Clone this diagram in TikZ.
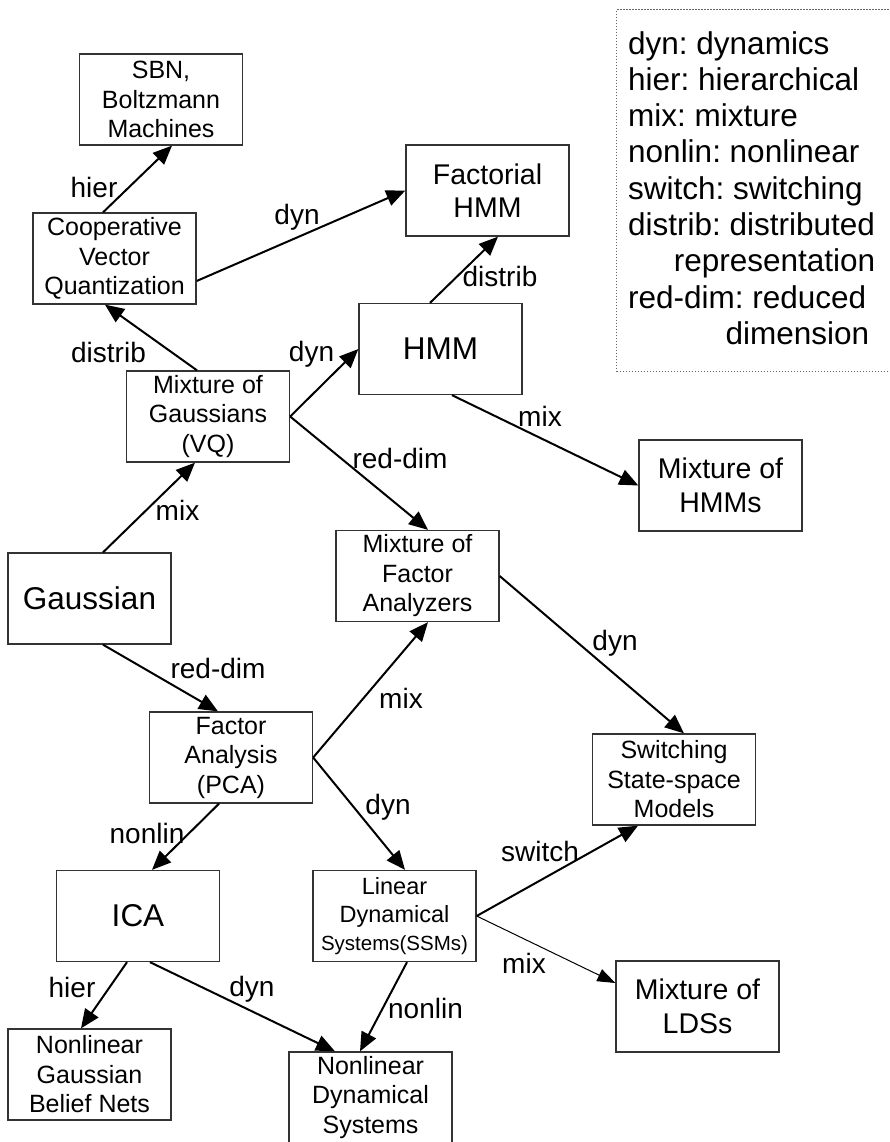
\documentclass[tikz,border=0pt]{standalone}
\usepackage{fontspec}
\setmainfont{Liberation Sans}
\usetikzlibrary{arrows.meta}
\frenchspacing
\newcommand{\fsmid}{\fontsize{25}{29.5}\selectfont}
\newcommand{\fsmed}{\fontsize{28.5}{33.5}\selectfont}
\newcommand{\fsbig}{\fontsize{31.5}{36.5}\selectfont}
\newcommand{\fslds}{\fontsize{23.5}{28}\selectfont}
\newcommand{\fssmall}{\fontsize{20.5}{25}\selectfont}
\newcommand{\fslbl}{\fontsize{28}{33}\selectfont}
\newcommand{\fsleg}{\fontsize{31.5}{36.3}\selectfont}
\begin{document}
\begin{tikzpicture}[x=1pt,y=-1pt,
  box/.style={draw=black!80, line width=1.3pt, rectangle, minimum width=163pt,
    minimum height=91pt, inner sep=0pt, align=center, font=\fsmid},
  arr/.style={-{Triangle[length=19pt,width=16pt]}, line width=2pt},
  thinarr/.style={-{Triangle[length=18pt,width=13pt]}, line width=1pt},
  lbl/.style={anchor=base, font=\fslbl, inner sep=0pt}]
\useasboundingbox (0,0) rectangle (889,1142);
\fill[white] (0,0) rectangle (889,1142);

% legend
\node[draw=black!60, line width=1pt, dash pattern=on 1.5pt off 1.5pt,
  minimum width=285pt, minimum height=362pt, inner sep=0pt, anchor=north west]
  (legendframe) at (616,9) {};
\node[anchor=north west, align=left, inner sep=0pt, font=\fsleg] (legend) at (628,31)
  {dyn: dynamics\\hier: hierarchical\\mix: mixture\\nonlin: nonlinear\\switch: switching\\distrib: distributed\\\hspace*{45.6pt}representation\\red-dim: reduced\\\hspace*{97.3pt}dimension};

% nodes
\node[box] (sbn) at (161,99.5) {SBN,\\Boltzmann\\Machines};
\node[box] (cvq) at (114.5,258.5) {Cooperative\\Vector\\Quantization};
\node[box, font=\fsmed] (fhmm) at (487.5,190.5) {Factorial\\HMM};
\node[box, font=\fsbig] (hmm) at (440.5,349) {HMM};
\node[box] (mog) at (208,416.5) {Mixture of\\Gaussians\\(VQ)};
\node[box, font=\fsmed] (mhmm) at (720.5,485.5) {Mixture of\\HMMs};
\node[box, font=\fsbig] (gauss) at (89.5,598.5) {Gaussian};
\node[box] (mfa) at (417.5,576) {Mixture of\\Factor\\Analyzers};
\node[box] (fa) at (231,757.5) {Factor\\Analysis\\(PCA)};
\node[box] (sssm) at (674,779.5) {Switching\\State-space\\Models};
\node[box, font=\fsbig] (ica) at (138,916) {ICA};
\node[box, font=\fslds] (lds) at (394.5,916) {Linear\\Dynamical\\{\fssmall Systems(SSMs)}};
\node[box, font=\fsmed] (mlds) at (697.5,1006.5) {Mixture of\\LDSs};
\node[box] (ngbn) at (89.5,1074.5) {Nonlinear\\Gaussian\\Belief Nets};
\node[box] (nds) at (370.5,1097.5) {Nonlinear\\Dynamical\\Systems};

% connectors
\draw[arr] ([xshift=-11.5pt]cvq.north) -- ([xshift=11pt]sbn.south)
  node[lbl, at={(94,197)}] {hier};
\draw[arr] ([yshift=-22.5pt]cvq.east) -- (fhmm.west)
  node[lbl, at={(297,224)}] {dyn};
\draw[arr] ([xshift=-11pt]mog.north) -- ([xshift=-9.5pt]cvq.south)
  node[lbl, at={(108.5,362)}] {distrib};
\draw[arr] (mog.east) -- (hmm.west)
  node[lbl, at={(311.5,361)}] {dyn};
\draw[arr] ([xshift=-10.5pt]hmm.north) -- ([xshift=10.5pt]fhmm.south)
  node[lbl, at={(500,286)}] {distrib};
\draw[arr] ([xshift=11.5pt]hmm.south) -- (mhmm.west)
  node[lbl, at={(540,426)}] {mix};
\draw[arr] (mog.east) -- ([xshift=10.5pt]mfa.north)
  node[lbl, at={(400,468)}] {red-dim};
\draw[arr] ([xshift=13.5pt]gauss.north) -- ([xshift=-13pt]mog.south)
  node[lbl, at={(177.5,520)}] {mix};
\draw[arr] ([xshift=13.5pt]gauss.south) -- ([xshift=-13pt]fa.north)
  node[lbl, at={(218,678)}] {red-dim};
\draw[arr] (fa.east) -- ([xshift=10.5pt]mfa.south)
  node[lbl, at={(401,708)}] {mix};
\draw[arr] (mfa.east) -- ([xshift=10pt]sssm.north)
  node[lbl, at={(615,650)}] {dyn};
\draw[arr] ([xshift=-12pt]fa.south) -- ([xshift=14pt]ica.north)
  node[lbl, at={(147,843)}] {nonlin};
\draw[arr] (fa.east) -- ([xshift=10.5pt]lds.north)
  node[lbl, at={(388,814)}] {dyn};
\draw[arr] (lds.east) -- ([xshift=-36pt]sssm.south)
  node[lbl, at={(540,861)}] {switch};
\draw[thinarr] (lds.east) -- ([yshift=23.5pt]mlds.west)
  node[lbl, at={(524,973)}] {mix};
\draw[arr] ([xshift=-11pt]ica.south) -- ([xshift=-8.5pt]ngbn.north)
  node[lbl, at={(72,997)}] {hier};
\draw[arr] ([xshift=12pt]ica.south) -- ([xshift=-35.5pt]nds.north)
  node[lbl, at={(252,996)}] {dyn};
\draw[arr] ([xshift=12.5pt]lds.south) -- ([xshift=-10.5pt]nds.north)
  node[lbl, at={(425.5,1018)}] {nonlin};
\end{tikzpicture}
\end{document}
